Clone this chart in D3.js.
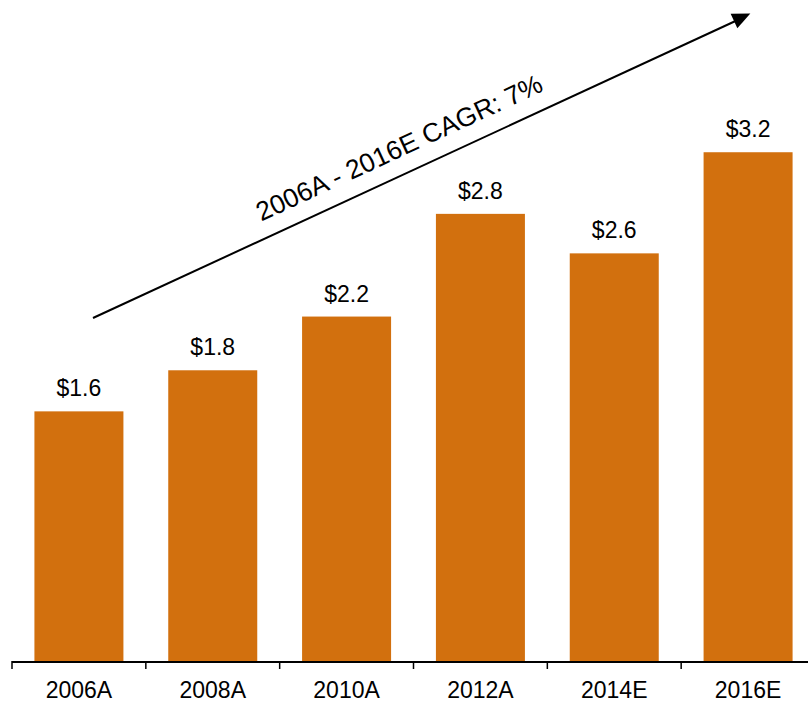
<!DOCTYPE html>
<html>
<head>
<meta charset="utf-8">
<script src="https://cdn.jsdelivr.net/npm/d3@7"></script>
<style>
  body { margin: 0; background: #fff; }
  text { font-family: "Liberation Sans", Arial, sans-serif; fill: #000; }
</style>
</head>
<body>
<script>
// data
const categories = ["2006A", "2008A", "2010A", "2012A", "2014E", "2016E"];
const values = [1.58, 1.84, 2.18, 2.83, 2.58, 3.22];
const cagrLabel = "2006A - 2016E CAGR: 7%";

const width = 808, height = 702;
const baseline = 661;

const svg = d3.select("body").append("svg")
  .attr("width", width)
  .attr("height", height);

const x = d3.scaleBand()
  .domain(categories)
  .range([12, 815])
  .paddingInner(0.335)
  .paddingOuter(0.1675);

const y = d3.scaleLinear()
  .domain([0, 3.5])
  .range([baseline, baseline - 158 * 3.5]);

// bars
svg.selectAll(".bar")
  .data(values)
  .enter()
  .append("rect")
    .attr("class", "bar")
    .attr("x", (d, i) => x(categories[i]))
    .attr("y", d => y(d))
    .attr("width", x.bandwidth())
    .attr("height", d => y(0) - y(d))
    .attr("fill", "#D2700E");

// value labels
svg.selectAll(".val")
  .data(values)
  .enter()
  .append("text")
    .attr("class", "val")
    .attr("x", (d, i) => x(categories[i]) + x.bandwidth() / 2)
    .attr("y", d => y(d) - 15)
    .attr("text-anchor", "middle")
    .style("font-size", "23px")
    .text(d => "$" + d.toFixed(1));

// x axis: line + ticks at band boundaries
const step = x.step();
const bounds = d3.range(categories.length + 1).map(i => 12 + i * step);
svg.append("line")
  .attr("x1", 12).attr("x2", width)
  .attr("y1", baseline + 1).attr("y2", baseline + 1)
  .attr("stroke", "#000").attr("stroke-width", 2);
svg.selectAll(".tick")
  .data(bounds)
  .enter()
  .append("line")
    .attr("x1", d => d).attr("x2", d => d)
    .attr("y1", baseline).attr("y2", baseline + 8)
    .attr("stroke", "#000").attr("stroke-width", 1.5);
svg.selectAll(".xlab")
  .data(categories)
  .enter()
  .append("text")
    .attr("class", "xlab")
    .attr("x", d => x(d) + x.bandwidth() / 2)
    .attr("y", 698)
    .attr("text-anchor", "middle")
    .style("font-size", "23px")
    .text(d => d);

// CAGR arrow
const a0 = [93, 318], a1 = [750, 14];
const ang = Math.atan2(a1[1] - a0[1], a1[0] - a0[0]) * 180 / Math.PI;
svg.append("line")
  .attr("x1", a0[0]).attr("y1", a0[1])
  .attr("x2", a1[0] - 8).attr("y2", a1[1] + 4)
  .attr("stroke", "#000").attr("stroke-width", 2);
svg.append("path")
  .attr("d", "M0,-8 L18,0 L0,8 Z")
  .attr("fill", "#000")
  .attr("transform", `translate(${a1[0] - 16},${a1[1] + 7}) rotate(${ang})`);

svg.append("text")
  .attr("transform", `translate(403,156) rotate(${ang})`)
  .attr("text-anchor", "middle")
  .style("font-size", "26.5px")
  .text(cagrLabel);
</script>
</body>
</html>
